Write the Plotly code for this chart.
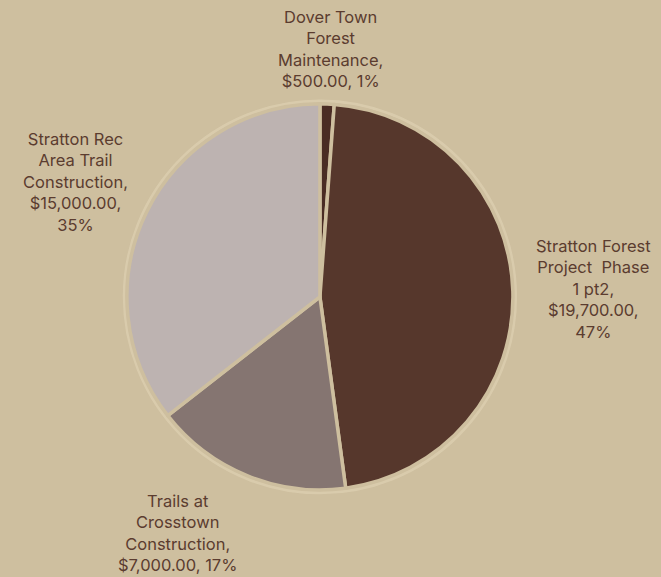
import plotly.graph_objects as go

# slice data, clockwise from 12 o'clock
labels = ["Dover Town Forest Maintenance",
          "Stratton Forest Project  Phase 1 pt2",
          "Trails at Crosstown Construction",
          "Stratton Rec Area Trail Construction"]
values = [500, 19700, 7000, 15000]
percents = [1, 47, 17, 35]  # as printed on the chart
colors = ["#4A2C24", "#56372C", "#857571", "#BDB3B1"]

# label text as wrapped in the picture
label_lines = [
    ["Dover Town", "Forest", "Maintenance,"],
    ["Stratton Forest", "Project  Phase", "1 pt2,"],
    ["Trails at", "Crosstown", "Construction,"],
    ["Stratton Rec", "Area Trail", "Construction,"],
]
value_breaks = [False, True, False, True]  # value / percent on separate lines

BG = "#CEBF9F"
TXT = "#5B3C2F"

fig = go.Figure()

fig.add_trace(go.Pie(
    labels=labels,
    values=values,
    sort=False,
    direction="clockwise",
    rotation=0,
    marker=dict(colors=colors, line=dict(color=BG, width=3.5)),
    textinfo="none",
    hoverinfo="label+value+percent",
    showlegend=False,
    domain=dict(x=[0.192, 0.776], y=[0.151, 0.820]),
))

# label positions (paper coords)
label_pos = [(0.500, 0.991), (0.898, 0.594), (0.268, 0.0), (0.114, 0.780)]
label_anchor = [("center", "top"), ("center", "top"), ("center", "bottom"), ("center", "top")]

for lines, v, p, brk, (px, py), (xa, ya) in zip(label_lines, values, percents, value_breaks,
                                                 label_pos, label_anchor):
    money = f"${v:,.2f}"
    if brk:
        txt = "<br>".join(lines + [money + ",", f"{p}%"])
    else:
        txt = "<br>".join(lines + [f"{money}, {p}%"])
    fig.add_annotation(
        x=px, y=py, xref="paper", yref="paper",
        xanchor=xa, yanchor=ya,
        text=txt, showarrow=False, align="center",
        font=dict(size=16.5, color=TXT, family="Inter, Open Sans, sans-serif"),
    )

# faint halo around the pie
fig.add_shape(type="circle", xref="paper", yref="paper",
              x0=0.192 - 0.004, x1=0.776 + 0.004, y0=0.151 - 0.005, y1=0.820 + 0.005,
              line=dict(color="rgba(225,212,182,0.6)", width=3), layer="below")

fig.update_layout(
    width=661, height=577,
    paper_bgcolor=BG, plot_bgcolor=BG,
    margin=dict(l=0, r=0, t=0, b=0),
)

fig.write_html("out.html", config={"displayModeBar": False},
               post_script="document.body.style.margin='0';")
